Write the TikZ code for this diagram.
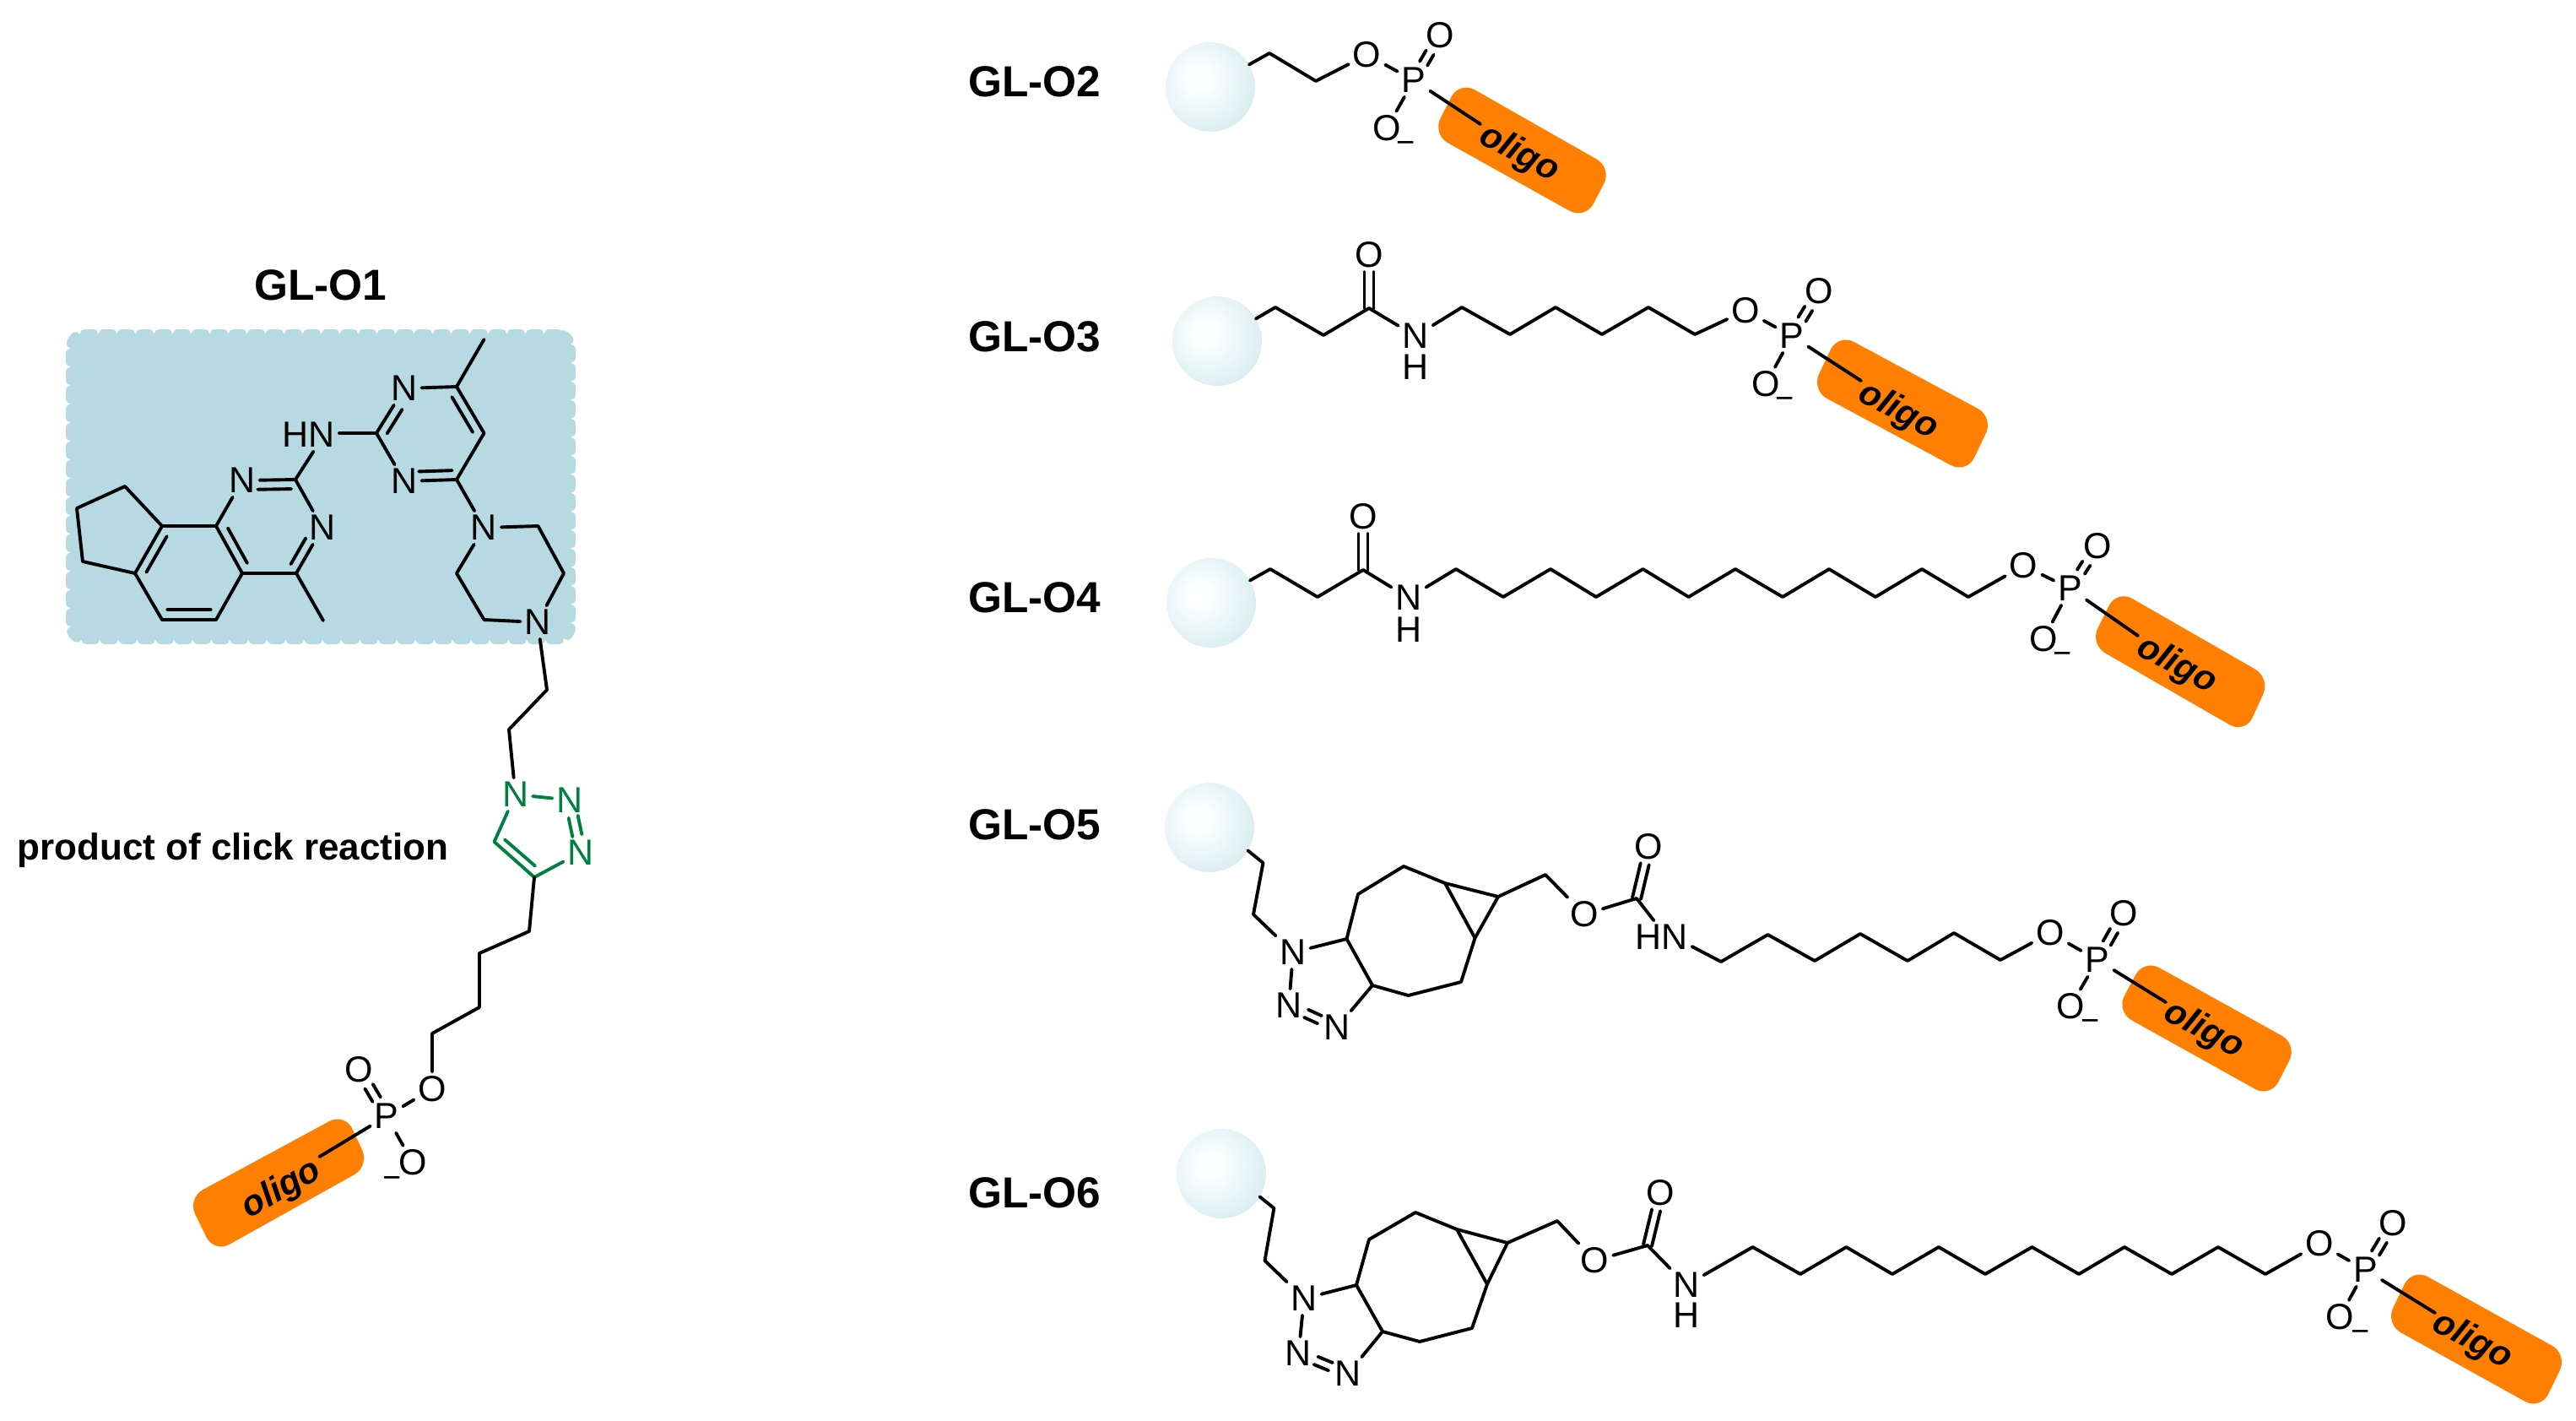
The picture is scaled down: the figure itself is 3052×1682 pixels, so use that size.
\documentclass[tikz,border=0pt]{standalone}
\usepackage{fontspec}
\setmainfont{Liberation Sans}
\usetikzlibrary{calc}
\definecolor{panelblue}{HTML}{B7D9E2}
\definecolor{pillorange}{HTML}{FF8000}
\definecolor{triaz}{HTML}{00803F}
\pgfdeclareradialshading{beadshade}{\pgfpoint{-7bp}{5bp}}{rgb(0bp)=(1,1,1); rgb(6bp)=(0.99,1,1); rgb(28bp)=(0.87,0.94,0.95); rgb(47bp)=(0.72,0.85,0.89); rgb(100bp)=(0.72,0.85,0.89)}
\tikzset{
  atom/.style={font=\fontsize{21.5pt}{24pt}\selectfont, inner sep=2.5pt, outer sep=0pt},
  grn/.style={atom, text=triaz},
  title/.style={font=\fontsize{25.7pt}{28pt}\selectfont\bfseries, inner sep=0pt},
  oligotext/.style={font=\fontsize{21pt}{24pt}\selectfont\bfseries\itshape, inner sep=0pt},
  minusmark/.style={font=\fontsize{19pt}{20pt}\selectfont, inner sep=0pt},
  pillshape/.style={fill=pillorange, draw=none, rounded corners=10.5pt},
  bead/.style={circle, shade, shading=beadshade, minimum size=53pt, inner sep=0pt, outer sep=0pt},
  panelbox/.style={rectangle, fill=panelblue, draw=panelblue, line width=5pt, dash pattern=on 5.5pt off 5.5pt, rounded corners=8pt, minimum width=297pt, minimum height=181.5pt, inner sep=0pt}
}
\newcommand{\vtx}[1]{\foreach \n/\x/\y in {#1}{\coordinate (\n) at (\x,\y);}}
\newcommand{\dblb}[4]{\draw[transform canvas={shift={(#3,#4)}}] (#1) -- (#2); \draw[transform canvas={shift={({-1*(#3)},{-1*(#4)})}}] (#1) -- (#2);}
\newcommand{\inb}[5]{\draw ($(#1)!#4!(#2)!#3!90:(#2)$) -- ($(#2)!#5!(#1)!-#3!90:(#1)$);}
\begin{document}
\begin{tikzpicture}[x=0.5pt,y=-0.5pt,line width=1.95pt,line cap=round,line join=round]
\useasboundingbox (0,0) rectangle (3052,1682);
% ---------- GL-O1 ----------
\node[panelbox] (panel) at (380,576.5) {};
\node[title] (t1) at (380,338) {GL-O1};
\node[atom] (a1) at (287,569) {N};
\node[atom] (a3) at (382,625) {N};
\node[atom] (hn) at (366,515) {HN};
\node[atom] (r1) at (479,460) {N};
\node[atom] (r5) at (479,570) {N};
\node[atom] (p1) at (573.5,625) {N};
\node[atom] (p4) at (637,737) {N};
\vtx{a2/350/568,a4/351/679,a5/287/679,a6/256/623,a7/192/623,a8/160/679,a9/192/734,a10/256/734,a11/383/735,a12/148/576,a13/91/602,a14/98/665,
     r2/541/458,rm/573.5/402,r3/573.5/513,r4/541/568,r6/446/513,
     p2/637.5/623,p3/668/679,p5/573.5/734,p6/541/679}
\draw (a1) -- (a2) -- (a3) -- (a4) -- (a5) -- (a6) -- (a1);
\draw (a6) -- (a7) -- (a8) -- (a9) -- (a10) -- (a5);
\draw (a4) -- (a11);
\draw (a7) -- (a12) -- (a13) -- (a14) -- (a8);
\inb{a7}{a8}{5.5pt}{.12}{.12}
\inb{a9}{a10}{6pt}{.1}{.1}
\inb{a6}{a5}{5.5pt}{.14}{.12}
\inb{a4}{a3}{5.5pt}{.1}{.33}
\inb{a2}{a1}{5.5pt}{.08}{.29}
\draw (hn.-75) -- (a2);
\draw (hn.east |- r6) -- (r6);
\draw (r1) -- (r2) -- (r3) -- (r4) -- (r5) -- (r6) -- (r1);
\draw (r2) -- (rm);
\inb{r3}{r2}{5.5pt}{.12}{.12}
\inb{r5}{r4}{5.5pt}{.28}{.08}
\inb{r1}{r6}{5.5pt}{.36}{.1}
\draw (r4) -- (p1);
\draw (p1) -- (p2) -- (p3) -- (p4) -- (p5) -- (p6) -- (p1);
% triazole
\node[grn] (tz1) at (610.6,941) {N};
\node[grn] (tz2) at (675,947.5) {N};
\node[grn] (tz3) at (688,1009.5) {N};
\vtx{tz4/633/1039,tz5/585.6/997,k1/648/817,k2/603/864,k3/627/1103,k4/568/1129,k5/568/1193,k6/512/1224,oe/378.5/1370}
\draw (p4) -- (k1) -- (k2) -- (tz1);
\begin{scope}[draw=triaz]
\draw[triaz] (tz1) -- (tz2);
\draw[triaz] (tz3) -- (tz4) -- (tz5) -- (tz1);
\draw[triaz,transform canvas={shift={(5.5,-1.5)}}] (tz2) -- (tz3);
\draw[triaz,transform canvas={shift={(-5.5,1.5)}}] (tz2) -- (tz3);
\draw[triaz] (598,994.4) -- (634,1025.6);
\end{scope}
\draw[pillshape] (222,1419) -- (408.6,1318) -- (438,1381) -- (253.6,1484) -- cycle;
\node[atom] (o1a) at (512,1289.5) {O};
\node[atom] (p1a) at (458,1322) {P};
\node[atom] (o1b) at (425,1266.5) {O};
\node[atom] (o1c) at (489,1377) {O};
\node[minusmark] (m1) at (465,1400) {−};
\draw (tz4) -- (k3) -- (k4) -- (k5) -- (k6) -- (o1a) -- (p1a);
\dblb{p1a}{o1b}{4.7}{-2.7}
\draw (p1a) -- (o1c);
\draw (p1a) -- (oe);
\node[oligotext,rotate=30] (ol1) at (334,1409) {oligo};
\node[font=\fontsize{22pt}{24pt}\selectfont\bfseries, inner sep=0pt, anchor=base] (click) at (276,1018) {product of click reaction};
% ---------- GL-O2 ----------
\node[title] (t2) at (1226,97) {GL-O2};
\draw[pillshape] (1729,96) -- (1910,199) -- (1878,260) -- (1697,159) -- cycle;
\node[bead] (b2) at (1434,103) {};
\node[atom] (o2a) at (1619.5,65) {O};
\node[atom] (p2a) at (1675,95) {P};
\node[atom] (o2b) at (1706,42) {O};
\node[atom] (o2c) at (1643,152) {O};
\node[minusmark] (m2) at (1666,174) {−};
\vtx{c21/1504/63,c22/1559/96,e2/1754/147}
\draw (b2.30) -- (c21) -- (c22) -- (o2a) -- (p2a);
\dblb{p2a}{o2b}{4.5}{2.5}
\draw (p2a) -- (o2c);
\draw (p2a) -- (e2);
\node[oligotext,rotate=-28] (ol2) at (1800,182) {oligo};
% ---------- GL-O3 ----------
\node[title] (t3) at (1226,399) {GL-O3};
\draw[pillshape] (2178,395) -- (2362,494) -- (2330,561) -- (2146,462) -- cycle;
\node[bead] (b3) at (1442,404) {};
\node[atom] (o3k) at (1622,302) {O};
\node[atom] (n3) at (1677,398) {N};
\node[atom] (h3) at (1677,435) {H};
\node[atom] (o3a) at (2068,368) {O};
\node[atom] (p3a) at (2123,398) {P};
\node[atom] (o3b) at (2155,345) {O};
\node[atom] (o3c) at (2092,455) {O};
\node[minusmark] (m3) at (2115,477) {−};
\vtx{c31/1511/364,c32/1568/397,c33/1622/365,c34/1732/364,c35/1789/396,c36/1843/364,c37/1898/396,c38/1953/364,c39/2008/396,e3/2205/451}
\draw (b3.30) -- (c31) -- (c32) -- (c33) -- (n3) -- (c34) -- (c35) -- (c36) -- (c37) -- (c38) -- (c39) -- (o3a) -- (p3a);
\dblb{c33}{o3k}{5.5}{0}
\dblb{p3a}{o3b}{4.5}{2.5}
\draw (p3a) -- (o3c);
\draw (p3a) -- (e3);
\node[oligotext,rotate=-28] (ol3) at (2249,487) {oligo};
% ---------- GL-O4 ----------
\node[title] (t4) at (1226,708) {GL-O4};
\draw[pillshape] (2508,698.5) -- (2690,803) -- (2660,869) -- (2476,763) -- cycle;
\node[bead] (b4) at (1435,714) {};
\node[atom] (o4k) at (1615,612) {O};
\node[atom] (n4) at (1669,708) {N};
\node[atom] (h4) at (1669,746) {H};
\node[atom] (o4a) at (2397.5,670) {O};
\node[atom] (p4a) at (2452.6,697) {P};
\node[atom] (o4b) at (2485,647) {O};
\node[atom] (o4c) at (2421,757) {O};
\node[minusmark] (m4) at (2444,779) {−};
\vtx{c41/1505/674,c42/1561/707,c43/1615/675,d1/1725/674,d2/1781/707,d3/1837/674,d4/1891/707,d5/1946.5/674,d6/2000.6/707,d7/2056/674,d8/2112/707,d9/2167/674,d10/2222/707,d11/2277/674,d12/2332/707,e4/2533/753}
\draw (b4.30) -- (c41) -- (c42) -- (c43) -- (n4) -- (d1) -- (d2) -- (d3) -- (d4) -- (d5) -- (d6) -- (d7) -- (d8) -- (d9) -- (d10) -- (d11) -- (d12) -- (o4a) -- (p4a);
\dblb{c43}{o4k}{5.5}{0}
\dblb{p4a}{o4b}{4.5}{2.5}
\draw (p4a) -- (o4c);
\draw (p4a) -- (e4);
\node[oligotext,rotate=-28] (ol4) at (2579,788) {oligo};
% ---------- GL-O5 ----------
\node[title] (t5) at (1226,977) {GL-O5};
\draw[pillshape] (2540,1136) -- (2722,1237) -- (2690,1300) -- (2507,1198) -- cycle;
\node[bead] (b5) at (1433,980) {};
\node[atom] (n51) at (1532,1128) {N};
\node[atom] (n52) at (1527,1191) {N};
\node[atom] (n53) at (1584,1217) {N};
\node[atom] (o5e) at (1877,1083) {O};
\node[atom] (o5k) at (1953.6,1003) {O};
\node[atom] (hn5) at (1968.6,1110) {HN};
\node[atom] (o5a) at (2429,1105) {O};
\node[atom] (p5a) at (2485,1137) {P};
\node[atom] (o5b) at (2516,1082) {O};
\node[atom] (o5c) at (2453,1192) {O};
\node[minusmark] (m5) at (2477,1214) {−};
\vtx{s1/1496.5/1022,s2/1485/1083,r51/1626/1167,r52/1595.5/1112,r53/1609/1059,r54/1663/1026,r55/1712/1046,r56/1775/1062,r57/1747.5/1111,r58/1731/1163,r59/1668.5/1179,s3/1831/1036,s4/1939/1064,
     f1/2039/1139,f2/2094.5/1107,f3/2150/1138,f4/2204/1106,f5/2260/1138,f6/2315/1105,f7/2370/1137,e5/2566/1187}
\draw (b5.-31) -- (s1) -- (s2) -- (n51) -- (n52);
\dblb{n52}{n53}{2.4}{-4.6}
\draw (n53) -- (r51) -- (r52) -- (n51);
\draw (r52) -- (r53) -- (r54) -- (r55) -- (r56) -- (r57) -- (r58) -- (r59) -- (r51);
\draw (r55) -- (r57);
\draw (r56) -- (s3) -- (o5e) -- (s4) -- (hn5.115);
\dblb{s4}{o5k}{5}{1}
\draw (hn5.-17) -- (f1) -- (f2) -- (f3) -- (f4) -- (f5) -- (f6) -- (f7) -- (o5a) -- (p5a);
\dblb{p5a}{o5b}{4.5}{2.5}
\draw (p5a) -- (o5c);
\draw (p5a) -- (e5);
\node[oligotext,rotate=-28] (ol5) at (2611,1220) {oligo};
% ---------- GL-O6 ----------
\node[title] (t6) at (1226,1413) {GL-O6};
\draw[pillshape] (2858,1502) -- (3042,1604) -- (3010,1670) -- (2826,1568) -- cycle;
\node[bead] (b6) at (1447,1390) {};
\node[atom] (n61) at (1545,1538) {N};
\node[atom] (n62) at (1538.5,1603) {N};
\node[atom] (n63) at (1597,1627) {N};
\node[atom] (o6e) at (1889.5,1493) {O};
\node[atom] (o6k) at (1967,1413) {O};
\node[atom] (n6) at (1998,1522) {N};
\node[atom] (h6) at (1998,1558) {H};
\node[atom] (o6a) at (2748,1473) {O};
\node[atom] (p6a) at (2802.5,1504) {P};
\node[atom] (o6b) at (2835.5,1449) {O};
\node[atom] (o6c) at (2772,1560) {O};
\node[minusmark] (m6) at (2797,1582) {−};
\vtx{u1/1509.4/1431,u2/1498.5/1493,r61/1638/1577,r62/1607/1522,r63/1622/1468,r64/1677/1436,r65/1726/1456,r66/1786/1472,r67/1762/1521,r68/1744/1573,r69/1682/1589,u3/1845/1446,u4/1952/1475,
     g1/2076.5/1477,g2/2133/1509,g3/2187.5/1477,g4/2242/1509,g5/2297/1477,g6/2352/1509,g7/2407.5/1477,g8/2463/1509,g9/2517/1477,g10/2573/1509,g11/2628/1477,g12/2684/1509,e6/2885/1555}
\draw (b6.-31) -- (u1) -- (u2) -- (n61) -- (n62);
\dblb{n62}{n63}{2.4}{-4.6}
\draw (n63) -- (r61) -- (r62) -- (n61);
\draw (r62) -- (r63) -- (r64) -- (r65) -- (r66) -- (r67) -- (r68) -- (r69) -- (r61);
\draw (r65) -- (r67);
\draw (r66) -- (u3) -- (o6e) -- (u4) -- (n6) -- (g1) -- (g2) -- (g3) -- (g4) -- (g5) -- (g6) -- (g7) -- (g8) -- (g9) -- (g10) -- (g11) -- (g12) -- (o6a) -- (p6a);
\dblb{u4}{o6k}{5}{1}
\dblb{p6a}{o6b}{4.5}{2.5}
\draw (p6a) -- (o6c);
\draw (p6a) -- (e6);
\node[oligotext,rotate=-28] (ol6) at (2929,1588) {oligo};
\end{tikzpicture}
\end{document}
